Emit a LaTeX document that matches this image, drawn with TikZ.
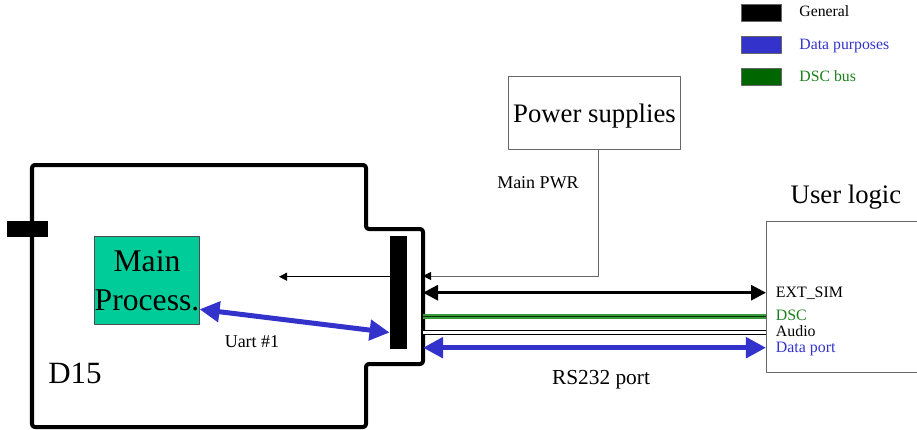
\documentclass[tikz,border=0pt]{standalone}
\usepackage{fontspec}
\setmainfont{LiberationSerif}[Extension=.ttf,UprightFont=*-Regular,BoldFont=*-Bold,ItalicFont=*-Italic,BoldItalicFont=*-BoldItalic]
\usetikzlibrary{arrows.meta,positioning,calc}
\definecolor{proc}{HTML}{00CC99}
\definecolor{datablue}{HTML}{3333CC}
\definecolor{dscgreen}{HTML}{006600}
\definecolor{dsclight}{HTML}{3A9A3A}
\definecolor{dsctext}{HTML}{1A7F1A}
\definecolor{edgegray}{HTML}{666666}

\begin{document}
\begin{tikzpicture}[x=0.025cm,y=-0.025cm,line join=round,
    edge/.style={draw=edgegray,line width=0.7pt},
    bigtext/.style={font=\fontsize{22.5}{27.7}\selectfont},
    medtext/.style={font=\fontsize{19}{22}\selectfont},
    smalltext/.style={font=\fontsize{12.8}{15}\selectfont},
    legbox/.style={draw=black!60,minimum width=1cm,minimum height=0.42cm,inner sep=0pt},
    legtext/.style={font=\fontsize{11.2}{13}\selectfont,inner sep=0pt,anchor=base west},
    pintext/.style={font=\fontsize{11.3}{13}\selectfont,inner sep=0pt,anchor=base west},
    genarrow/.style={{Triangle[length=0.375cm,width=0.375cm]}-{Triangle[length=0.375cm,width=0.375cm]},line width=0.075cm},
    dataarrow/.style={datablue,{Triangle[length=0.5cm,width=0.5cm]}-{Triangle[length=0.5cm,width=0.5cm]},line width=0.125cm},
    thinarrow/.style={-{Triangle[length=0.2cm,width=0.2cm,color=black]},line width=0.7pt},
    dscbus/.style={draw=dsclight,line width=0.11cm,postaction={draw=black!80!green,line width=0.6pt}},
    audio/.style={draw=black,double=white,double distance=1.8pt,line width=0.7pt}]
  \useasboundingbox (0,0) rectangle (917,429);

  % --- legend ---
  \node[legbox,fill=black]    (leggen)  at (761.7,12.7) {};
  \node[legbox,fill=datablue] (legdata) at (761.7,45)   {};
  \node[legbox,fill=dscgreen] (legdsc)  at (761.7,77)   {};
  \node[legtext]          (leggentxt)  at ([xshift=0.43cm,yshift=-0.1cm]leggen.east)  {General};
  \node[legtext,datablue] (legdatatxt) at ([xshift=0.43cm,yshift=-0.1cm]legdata.east) {Data purposes};
  \node[legtext,dsctext]  (legdsctxt)  at ([xshift=0.43cm,yshift=-0.1cm]legdsc.east)  {DSC bus};

  % --- D15 board ---
  \draw[line width=0.1cm,rounded corners=2pt] (32,165) -- (366,165) -- (366,229)
    -- (423,229) -- (423,364) -- (366,364) -- (366,427) -- (32,427) -- cycle;
  \fill (7,221) rectangle (48,237);
  \node[draw=black!70,fill=proc,bigtext,align=center,inner sep=0pt,
        minimum width=2.6cm,minimum height=2.19cm] (mainproc) at (147,280.5) {Main\\Process.};
  \node[fill=black,inner sep=0pt,minimum width=0.42cm,minimum height=2.83cm] (bar) at (398.3,292.5) {};
  \node[font=\fontsize{22}{26}\selectfont,anchor=base] (d15) at (75,383) {D15};
  \coordinate (inner) at (279,276.7);
  \draw[thinarrow] (bar.west |- inner) -- (inner);
  \draw[dataarrow] ([yshift=-0.72cm]mainproc.east) -- ([yshift=-1.0cm]bar.west);
  \node[smalltext,anchor=base] (uart) at (252,347) {Uart \#1};

  % --- power ---
  \node[edge,medtext,text depth=0pt,minimum width=4.19cm,minimum height=1.81cm] (power) at (594.5,113) {Power supplies};
  \node[smalltext,anchor=base] (mainpwr) at (538,188.3) {Main PWR};
  \coordinate (pwrin) at (423,276);
  \draw[edge,thinarrow] ([xshift=0.095cm]power.south) |- (pwrin);

  % --- user logic ---
  \coordinate (ulTL) at (766,221);
  \coordinate (ulBL) at (766,372);
  \coordinate (ulTR) at (917,221);
  \coordinate (ulBR) at (917,372);
  \draw[edge] (ulTR) -- (ulTL) -- (ulBL) -- (ulBR);
  \node[medtext,anchor=base] (ultitle) at (846,203.3) {User logic};

  % --- buses ---
  \coordinate (extL)  at (423,292.7);
  \coordinate (dscL)  at (423,316.5);
  \coordinate (audL)  at (423,332.3);
  \coordinate (dataL) at (423,347.7);
  \draw[genarrow]  (extL)  -- (ulTL |- extL);
  \draw[dscbus]    (dscL)  -- (ulTL |- dscL);
  \draw[audio]     (audL)  -- (ulTL |- audL);
  \draw[dataarrow] (dataL) -- (ulTL |- dataL);
  \node[pintext]          (extlbl)  at ([xshift=0.24cm,yshift=-0.115cm]ulTL |- extL)  {EXT\_SIM};
  \node[pintext,dsctext]  (dsclbl)  at ([xshift=0.24cm,yshift=-0.105cm]ulTL |- dscL)  {DSC};
  \node[pintext]          (audlbl)  at ([xshift=0.24cm,yshift=-0.11cm]ulTL |- audL)   {Audio};
  \node[pintext,datablue] (datalbl) at ([xshift=0.24cm,yshift=-0.115cm]ulTL |- dataL) {Data port};
  \node[font=\fontsize{15.2}{18}\selectfont,anchor=base] (rs232) at (601,384) {RS232 port};
\end{tikzpicture}
\end{document}
